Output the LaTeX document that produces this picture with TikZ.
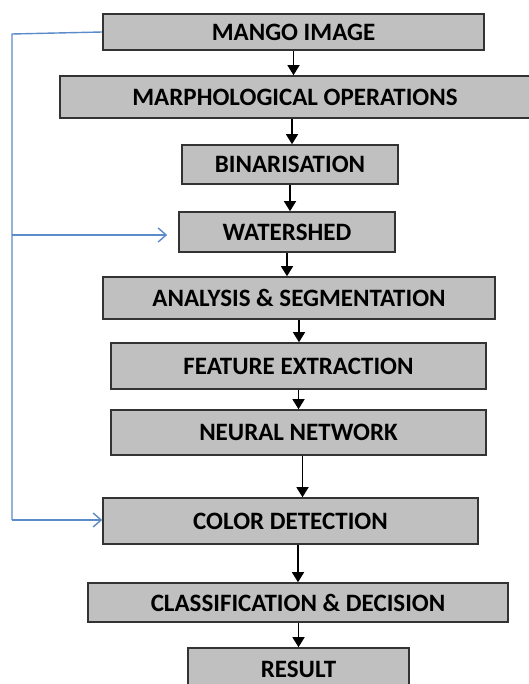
\documentclass[tikz,border=0pt]{standalone}
\usepackage{fontspec}
\setmainfont{Carlito}
\usepackage{tikz}
\usetikzlibrary{arrows.meta,positioning}

\definecolor{boxgray}{HTML}{C0C0C0}
\definecolor{linkblue}{HTML}{5B8BC9}

\begin{document}
\begin{tikzpicture}[
  x=0.5pt, y=-0.5pt,
  every node/.style={font=\fontsize{12.5}{14}\selectfont\bfseries, align=center},
  stage/.style={rectangle, draw=black!80, line width=0.8pt, fill=boxgray, inner sep=0pt},
  flow/.style={-{Triangle[length=5pt, width=6pt]}, line width=0.7pt},
  back/.style={-{Straight Barb[length=4pt, width=7pt]}, draw=linkblue, line width=0.7pt}
]

\useasboundingbox (0,0) rectangle (529,684);

\node[stage, minimum width=190.5pt, minimum height=18pt] (mango) at (293.5,32) {MANGO IMAGE};
\node[stage, minimum width=235pt, minimum height=21pt] (morph) at (295,97) {MARPHOLOGICAL OPERATIONS};
\node[stage, minimum width=108pt, minimum height=19.5pt] (binar) at (290,164.5) {BINARISATION};
\node[stage, minimum width=108pt, minimum height=20pt] (water) at (287,232) {WATERSHED};
\node[stage, minimum width=196pt, minimum height=21pt] (segm) at (299,298) {ANALYSIS \& SEGMENTATION};
\node[stage, minimum width=187.5pt, minimum height=23pt] (feat) at (298.5,366) {FEATURE EXTRACTION};
\node[stage, minimum width=187.5pt, minimum height=22.5pt] (neural) at (298.5,432.5) {NEURAL NETWORK};
\node[stage, minimum width=187.5pt, minimum height=23pt] (color) at (290.5,521) {COLOR DETECTION};
\node[stage, minimum width=210pt, minimum height=19.5pt] (classif) at (298,602.5) {CLASSIFICATION \& DECISION};
\node[stage, minimum width=110.5pt, minimum height=21pt] (result) at (298.5,669) {RESULT};

% main flow
\draw[flow] (mango) -- (mango |- morph.north);
\draw[flow] ([xshift=-1.5pt]morph.south) -- ([xshift=-1.5pt]morph.south |- binar.north);
\draw[flow] (binar) -- (binar |- water.north);
\draw[flow] (water) -- (water |- segm.north);
\draw[flow] (segm) -- (segm |- feat.north);
\draw[flow] (feat) -- (feat |- neural.north);
\draw[flow] ([xshift=2pt]neural.south) -- ([xshift=2pt]neural.south |- color.north);
\draw[flow] (classif |- color.south) -- (classif);
\draw[flow] (result |- classif.south) -- (result);

% feedback from the input image
\coordinate (bend) at (12,34);
\coordinate (bendws) at (12,235);
\coordinate (bendcd) at (12,520);
\draw[linkblue, line width=0.7pt] (mango.west) -- (bend) -- (bendcd);
\draw[back, shorten >=5.5pt] (bendws) -- (bendws -| water.west);
\draw[back] (bendcd) -- (bendcd -| color.west);

\end{tikzpicture}
\end{document}
